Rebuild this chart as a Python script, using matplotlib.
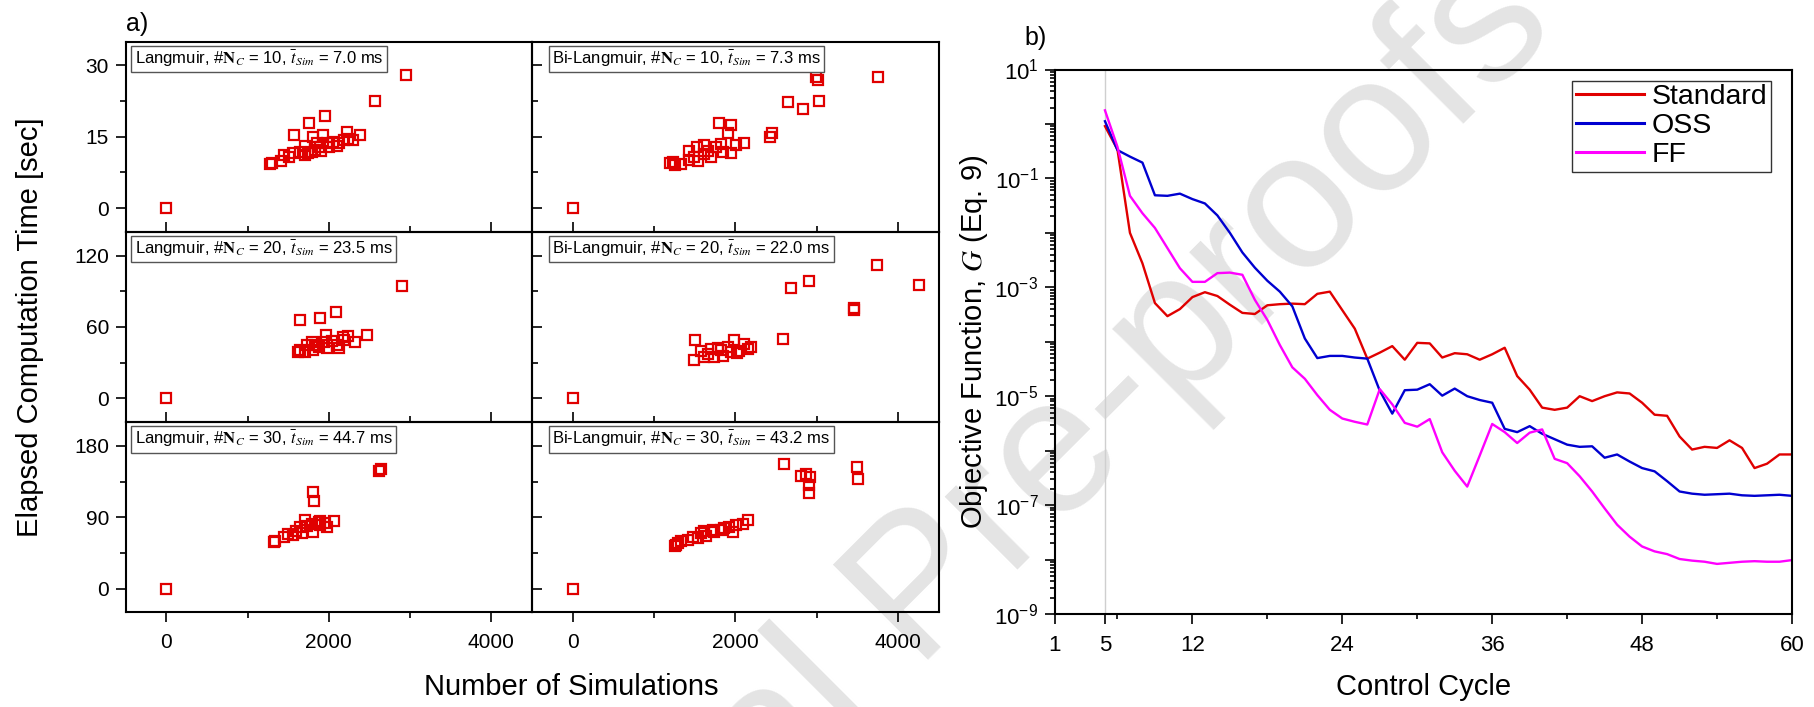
import numpy as np
import matplotlib
matplotlib.use('Agg')
import matplotlib.pyplot as plt
from matplotlib.ticker import MultipleLocator, FixedLocator, LogLocator, NullFormatter, FuncFormatter

plt.rcParams['font.family'] = ['Liberation Sans', 'DejaVu Sans']
plt.rcParams['mathtext.fontset'] = 'stix'

# ---------------- data: panel a) ----------------
lang10_x = [0, 2951, 2562, 1958, 1755, 1569, 1810, 1924, 2224, 2389, 2232, 2055, 1704, 1894, 2000,
            2127, 2296, 1704, 1789, 1556, 1450, 1408, 1302, 1281, 1514, 1641, 1979, 1852, 2190, 2100,
            1830, 1740, 1900]
lang10_y = [0, 27.95, 22.6, 19.3, 18.0, 15.4, 15.0, 15.4, 16.1, 15.4, 14.6, 13.9, 13.1, 12.9, 12.9,
            13.6, 14.4, 11.1, 11.8, 11.5, 11.1, 10.0, 9.55, 9.3, 10.8, 11.8, 13.6, 13.6, 14.3, 13.0,
            12.3, 11.5, 12.0]

bilang10_x = [0, 3750, 2992, 3012, 3025, 2643, 2828, 2447, 2430, 1795, 1947, 1906, 2102, 2008, 1824,
              1611, 1434, 1525, 1947, 1844, 1701, 1611, 1434, 1537, 1230, 1258, 1332, 1189, 1762, 1496, 1660]
bilang10_y = [0, 27.6, 27.6, 26.9, 22.6, 22.4, 20.8, 15.9, 14.9, 17.9, 17.4, 15.9, 13.6, 13.3, 13.5,
              13.3, 12.1, 12.8, 11.5, 11.7, 10.7, 11.4, 10.2, 10.0, 9.6, 9.1, 9.25, 9.4, 12.8, 10.7, 12.1]

lang20_x = [0, 2897, 2093, 1894, 1649, 2474, 2169, 1970, 2233, 2317, 2042, 1789, 1725, 1873, 1979,
            2106, 2127, 1641, 1620, 1704, 1810, 1937, 2190, 1831]
lang20_y = [0, 94.4, 72.4, 67.9, 65.6, 53.5, 51.5, 53.5, 52.1, 47.3, 47.9, 47.3, 44.5, 43.1, 42.5,
            44.5, 42.5, 40.8, 38.9, 38.9, 40.3, 47.3, 48.7, 44.5]

bilang20_x = [0, 3738, 4254, 2902, 2684, 3455, 3463, 2590, 1508, 1980, 1578, 1484, 1619, 1734, 1852,
              2020, 2152, 2193, 2111, 1783, 1701, 1906, 1824, 2049, 1947, 1660]
bilang20_y = [0, 112, 95.5, 98.3, 92.7, 75.9, 74.2, 49.9, 49.3, 49.0, 39.5, 32.2, 34.5, 34.5, 35.9,
              37.8, 41.5, 43.4, 45.7, 42.3, 41.5, 43.4, 40.6, 40.1, 38.7, 37.3]

lang30_x = [0, 2643, 2613, 1810, 1818, 2063, 1894, 1704, 1979, 1894, 1801, 1675, 1556, 1493, 1450,
            1336, 1323, 1641, 1725, 1789, 1873, 1598, 1958]
lang30_y = [0, 150.4, 148.3, 121.7, 110.3, 85.8, 84.9, 87.0, 78.2, 80.7, 71.0, 69.7, 67.6, 68.9, 65.5,
            60.4, 58.3, 77.3, 79.4, 81.5, 83.7, 73.1, 82.4]

bilang30_x = [0, 2602, 3496, 3512, 2869, 2807, 2922, 2902, 2910, 2152, 2090, 2008, 1967, 1926, 1824,
              1742, 1721, 1639, 1611, 1537, 1475, 1414, 1332, 1270, 1291, 1258, 1578, 1865]
bilang30_y = [0, 157.6, 153.4, 138.6, 144.9, 141.9, 140.7, 130.1, 120.8, 87.0, 81.5, 80.7, 71.8, 78.2, 74.4,
              71.0, 74.4, 66.8, 73.1, 63.8, 65.5, 61.3, 59.6, 54.9, 57.9, 53.2, 69.7, 76.5]

panel_labels = [
    r'Langmuir, #$\mathbf{N}_{C}$ = 10, $\bar{t}_{Sim}$ = 7.0 ms',
    r'Bi-Langmuir, #$\mathbf{N}_{C}$ = 10, $\bar{t}_{Sim}$ = 7.3 ms',
    r'Langmuir, #$\mathbf{N}_{C}$ = 20, $\bar{t}_{Sim}$ = 23.5 ms',
    r'Bi-Langmuir, #$\mathbf{N}_{C}$ = 20, $\bar{t}_{Sim}$ = 22.0 ms',
    r'Langmuir, #$\mathbf{N}_{C}$ = 30, $\bar{t}_{Sim}$ = 44.7 ms',
    r'Bi-Langmuir, #$\mathbf{N}_{C}$ = 30, $\bar{t}_{Sim}$ = 43.2 ms',
]

# ---------------- data: panel b) (log10 of objective function) ----------------
cycles = list(range(5, 61))
log_standard = [-0.04, -0.47, -2.0, -2.56, -3.29, -3.53, -3.40, -3.18, -3.09, -3.16, -3.32, -3.47, -3.49,
                -3.33, -3.31, -3.30, -3.31, -3.12, -3.08, -3.42, -3.76, -4.31, -4.20, -4.08, -4.33, -4.02,
                -4.03, -4.29, -4.21, -4.23, -4.33, -4.23, -4.11, -4.63, -4.88, -5.21, -5.25, -5.21, -5.0,
                -5.09, -5.0, -4.93, -4.95, -5.12, -5.34, -5.36, -5.74, -5.98, -5.93, -5.95, -5.81, -5.95,
                -6.32, -6.24, -6.07, -6.07]
log_oss = [0.05, -0.48, -0.6, -0.71, -1.31, -1.32, -1.28, -1.38, -1.46, -1.68, -2.0, -2.36, -2.64, -2.88,
           -3.08, -3.35, -3.94, -4.30, -4.26, -4.26, -4.29, -4.31, -4.9, -5.32, -4.89, -4.88, -4.78, -4.99,
           -4.86, -5.0, -5.07, -5.12, -5.6, -5.66, -5.55, -5.69, -5.79, -5.89, -5.93, -5.92, -6.13, -6.07,
           -6.2, -6.32, -6.38, -6.56, -6.75, -6.79, -6.81, -6.8, -6.79, -6.82, -6.83, -6.82, -6.81, -6.83]
log_ff = [0.25, -0.42, -1.32, -1.64, -1.91, -2.28, -2.65, -2.9, -2.9, -2.74, -2.73, -2.77, -3.23, -3.6,
          -4.06, -4.47, -4.68, -4.98, -5.25, -5.41, -5.47, -5.52, -4.87, -5.15, -5.49, -5.56, -5.42, -6.03,
          -6.37, -6.66, -6.09, -5.51, -5.66, -5.86, -5.67, -5.61, -6.15, -6.23, -6.47, -6.75, -7.06, -7.36,
          -7.58, -7.76, -7.85, -7.9, -7.99, -8.02, -8.04, -8.08, -8.06, -8.04, -8.03, -8.04, -8.04, -8.01]
series_names = ['Standard', 'OSS', 'FF']
x_major_b = [1, 5, 12, 24, 36, 48, 60]
x_minor_b = [6, 18, 30, 42, 54]

RED = '#e00000'
W, H = 1814, 707
fig = plt.figure(figsize=(W / 100, H / 100), dpi=100)
fig.patch.set_facecolor('white')


def px(x0, y0, w, h):
    return [x0 / W, 1 - (y0 + h) / H, w / W, h / H]


# watermark
fig.text(958 / W, 1 - 558 / H, 'Journal Pre-proofs', rotation=45, rotation_mode='anchor',
         fontsize=140, color='#e4e4e4', ha='center', va='center', zorder=-10)

scatter_x = [lang10_x, bilang10_x, lang20_x, bilang20_x, lang30_x, bilang30_x]
scatter_y = [lang10_y, bilang10_y, lang20_y, bilang20_y, lang30_y, bilang30_y]
ylims = [(-5, 35), (-20, 140), (-30, 210)]
ymaj = [15, 60, 90]
col_x = [125.7, 532.3]
col_w = 406.3
row_top = 41.7
row_h = 190.2
box_dx = [0.022, 0.049]

for r in range(3):
    for c in range(2):
        k = r * 2 + c
        ax = fig.add_axes(px(col_x[c], row_top + r * row_h, col_w, row_h))
        ax.set_facecolor('none')
        ax.plot(scatter_x[k], scatter_y[k], ls='none', marker='s', mfc='none', mec=RED,
                ms=6.5, mew=1.6, clip_on=False)
        ax.set_xlim(-500, 4500)
        ax.set_ylim(*ylims[r])
        ax.xaxis.set_major_locator(MultipleLocator(2000))
        ax.xaxis.set_minor_locator(MultipleLocator(1000))
        ax.yaxis.set_major_locator(MultipleLocator(ymaj[r]))
        ax.yaxis.set_minor_locator(MultipleLocator(ymaj[r] / 2))
        for s in ax.spines.values():
            s.set_linewidth(1.5)
        if c == 0:
            ax.tick_params(axis='y', which='both', direction='out', left=True, right=False,
                           labelleft=True, labelsize=15, pad=5, width=1.2)
        else:
            ax.tick_params(axis='y', which='both', direction='in', left=True, right=False,
                           labelleft=False, width=1.2)
        ax.tick_params(axis='y', which='major', length=7)
        ax.tick_params(axis='y', which='minor', length=4)
        if r < 2:
            ax.tick_params(axis='x', which='both', direction='in', bottom=True, top=False,
                           labelbottom=False, width=1.2)
        else:
            ax.tick_params(axis='x', which='both', direction='out', bottom=True, top=False,
                           labelbottom=True, labelsize=15, pad=8, width=1.2)
        ax.tick_params(axis='x', which='major', length=7)
        ax.tick_params(axis='x', which='minor', length=4)
        ax.text(box_dx[c], 0.962, panel_labels[k], transform=ax.transAxes, ha='left', va='top',
                fontsize=12, bbox=dict(boxstyle='square,pad=0.2', fc='white', ec='#555555', lw=1.0))

fig.text(30 / W, 1 - 327 / H, 'Elapsed Computation Time [sec]', rotation=90, ha='center',
         va='center', fontsize=21)
fig.text(571 / W, 1 - 687 / H, 'Number of Simulations', ha='center', va='center', fontsize=21)
fig.text(137 / W, 1 - 24 / H, 'a)', ha='center', va='center', fontsize=18)

# ---------------- panel b) ----------------
axb = fig.add_axes(px(1055, 69.5, 737, 544.5))
axb.set_facecolor('none')
axb.axvline(5, color='#cfcfcf', lw=1.0, zorder=0)
colors = [RED, '#0000d0', '#ff00ff']
for logs, name, col in zip([log_standard, log_oss, log_ff], series_names, colors):
    axb.plot(cycles, 10.0 ** np.array(logs), color=col, lw=1.7, label=name)
axb.set_yscale('log')
axb.set_xlim(1, 60)
axb.set_ylim(1e-9, 1e1)
axb.xaxis.set_major_locator(FixedLocator(x_major_b))
axb.xaxis.set_minor_locator(FixedLocator(x_minor_b))
axb.yaxis.set_major_locator(LogLocator(base=10, numticks=30))
axb.yaxis.set_minor_locator(LogLocator(base=10, subs=np.arange(2, 10), numticks=100))
axb.yaxis.set_minor_formatter(NullFormatter())


def logfmt(v, pos):
    e = int(round(np.log10(v)))
    if e % 2 == 1:
        return r'$\mathregular{10^{%d}}$' % e
    return ''


axb.yaxis.set_major_formatter(FuncFormatter(logfmt))
for s in axb.spines.values():
    s.set_linewidth(1.5)
axb.tick_params(axis='both', which='both', direction='out', top=False, right=False, width=1.2)
axb.tick_params(axis='both', which='major', length=7)
axb.tick_params(axis='both', which='minor', length=3.5)
axb.tick_params(axis='y', which='major', labelsize=16, pad=5)
axb.tick_params(axis='x', which='major', labelsize=16, pad=8)

leg = axb.legend(loc='upper right', bbox_to_anchor=(1771 / W, 1 - 81 / H), bbox_transform=fig.transFigure,
                 fontsize=20.5, frameon=True, fancybox=False, edgecolor='#333333', framealpha=1,
                 borderaxespad=0, handlelength=2.4, handletextpad=0.28, labelspacing=0.1, borderpad=0.12)
leg.get_frame().set_linewidth(1.0)
for line in leg.get_lines():
    line.set_linewidth(2.2)

fig.text(974 / W, 1 - 342 / H, r'Objective Function, $G$ (Eq. 9)', rotation=90, ha='center',
         va='center', fontsize=21)
fig.text(1424 / W, 1 - 687 / H, 'Control Cycle', ha='center', va='center', fontsize=21)
fig.text(1036 / W, 1 - 38 / H, 'b)', ha='center', va='center', fontsize=18)

fig.savefig('out.png', dpi=100)
